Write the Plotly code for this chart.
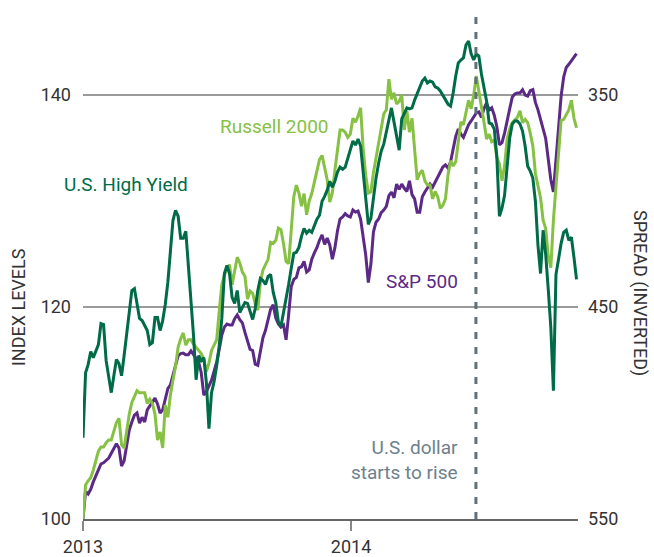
import pandas as pd
import plotly.graph_objects as go

# ---- data (readings every half week) ----
dates = pd.date_range("2013-01-01", periods=193, freq="84h")

hy_spread = [
    511.7, 481.0, 477.2, 471.0, 473.9, 470.6, 467.7, 457.8, 458.3, 475.3,
    483.3, 490.4, 482.4, 474.8, 476.7, 482.4, 472.9, 463.5, 451.7, 442.2,
    441.3, 448.8, 455.4, 456.4, 458.7, 461.1, 467.7, 466.8, 455.0, 455.0,
    461.1, 456.4, 448.8, 438.4, 423.8, 409.1, 404.4, 407.2, 417.6, 417.6,
    414.3, 430.8, 443.6, 463.5, 484.3, 472.9, 475.3, 473.9, 485.7, 507.4,
    490.4, 485.2, 477.7, 468.2, 455.4, 434.2, 430.4, 434.2, 445.5, 448.3,
    442.2, 452.6, 450.2, 447.9, 448.3, 451.7, 455.9, 450.7, 442.2, 436.5,
    437.5, 439.4, 435.6, 434.6, 443.1, 447.9, 456.9, 459.2, 453.1, 446.5,
    439.4, 431.8, 424.7, 424.2, 421.9, 416.7, 412.9, 415.2, 413.8, 414.8,
    411.9, 408.6, 406.7, 400.1, 397.8, 394.9, 390.7, 393.5, 390.7, 386.4,
    384.0, 385.0, 384.0, 379.8, 375.5, 371.7, 373.6, 370.8, 374.1, 387.4,
    401.1, 411.0, 408.2, 397.8, 389.2, 382.2, 376.5, 373.2, 367.5, 361.3,
    356.1, 362.8, 368.9, 376.0, 361.3, 358.5, 356.1, 356.6, 356.1, 352.4,
    349.5, 346.2, 343.4, 342.0, 344.3, 343.4, 343.9, 346.2, 346.7, 348.1,
    350.0, 351.9, 354.3, 355.2, 349.1, 341.0, 334.9, 333.5, 332.5, 326.4,
    324.5, 330.6, 333.5, 330.6, 331.6, 340.1, 346.7, 352.8, 363.2, 363.7,
    366.1, 379.3, 407.2, 403.4, 397.3, 381.7, 370.3, 363.7, 362.3, 362.3,
    363.7, 367.0, 374.1, 383.6, 385.9, 389.2, 400.1, 420.9, 434.2, 413.8,
    425.2, 441.7, 459.7, 489.5, 434.6, 427.5, 420.0, 414.8, 413.8, 418.6,
    417.1, 426.6, 437.0]

russell = [
    100.0, 103.2, 103.6, 103.9, 104.6, 105.6, 106.4, 106.8, 106.8, 107.2,
    107.45, 107.45, 108.2, 109.1, 109.5, 107.0, 106.7, 108.4, 109.9, 111.0,
    111.5, 112.1, 111.9, 111.9, 111.9, 110.9, 111.3, 110.9, 109.9, 107.45,
    108.2, 106.7, 110.75, 109.6, 111.7, 113.1, 114.4, 116.2, 117.0, 117.55,
    116.4, 116.9, 116.9, 116.5, 116.2, 116.0, 115.6, 115.1, 113.9, 114.7,
    115.9, 116.4, 116.9, 119.6, 122.1, 123.0, 123.6, 124.0, 122.1, 123.4,
    124.7, 124.15, 123.3, 122.9, 120.75, 121.5, 121.3, 120.3, 119.7, 122.3,
    123.5, 124.0, 124.5, 126.1, 126.0, 126.3, 127.45, 127.3, 126.0, 124.3,
    124.1, 127.2, 130.4, 131.5, 130.75, 129.5, 130.7, 128.7, 130.0, 130.7,
    131.7, 132.9, 133.9, 134.3, 133.0, 132.0, 129.9, 130.75, 132.9, 135.0,
    136.7, 136.7, 136.5, 136.0, 136.3, 137.8, 137.45, 138.0, 138.8, 134.9,
    132.4, 130.75, 130.85, 132.7, 134.1, 135.4, 137.1, 138.2, 138.6, 141.5,
    139.6, 140.2, 139.15, 139.4, 140.0, 136.7, 138.5, 136.5, 137.8, 134.5,
    132.0, 132.6, 132.9, 131.9, 131.5, 131.5, 130.2, 130.9, 130.4, 129.3,
    129.6, 130.2, 132.45, 133.8, 133.3, 133.7, 135.5, 137.45, 137.2, 138.4,
    139.5, 138.7, 140.0, 141.8, 140.4, 139.25, 137.45, 135.85, 136.3, 135.6,
    135.75, 134.1, 133.5, 131.9, 133.3, 135.85, 136.8, 137.4, 137.7, 137.9,
    138.5, 137.4, 137.7, 137.4, 136.4, 135.2, 132.6, 131.4, 130.3, 128.2,
    127.4, 124.8, 123.7, 128.2, 131.4, 134.6, 137.6, 137.7, 138.1, 138.6,
    139.5, 137.8, 136.9]

sp500 = [
    100.0, 102.6, 102.35, 102.8, 103.5, 104.05, 104.6, 105.2, 105.3, 105.5,
    105.75, 106.2, 106.7, 107.1, 106.7, 105.0, 105.5, 107.0, 108.4, 109.15,
    109.8, 110.0, 109.05, 109.6, 109.15, 110.3, 110.65, 111.1, 111.4, 110.85,
    110.0, 110.3, 111.3, 112.3, 112.65, 113.6, 114.7, 115.4, 115.6, 115.65,
    115.5, 115.5, 115.85, 115.5, 115.1, 114.8, 113.8, 111.7, 112.0, 112.55,
    113.1, 113.95, 114.8, 116.0, 117.35, 118.1, 118.4, 118.3, 118.3, 118.9,
    119.25, 118.8, 118.5, 117.6, 116.7, 116.0, 115.9, 114.6, 114.5, 115.65,
    117.1, 117.8, 118.7, 119.8, 120.2, 118.95, 118.4, 118.1, 118.3, 116.9,
    119.25, 121.9, 122.6, 122.8, 123.7, 123.8, 124.3, 123.3, 123.5, 124.5,
    125.1, 125.6, 126.3, 126.8, 125.9, 126.5, 125.85, 124.5, 125.6, 127.2,
    128.3, 128.5, 128.8, 128.6, 128.5, 129.15, 128.95, 129.05, 128.3, 126.5,
    124.9, 122.3, 124.05, 127.1, 128.0, 128.3, 128.9, 129.15, 129.5, 130.5,
    130.85, 130.3, 131.6, 131.1, 131.6, 131.2, 130.9, 131.9, 130.6, 130.2,
    128.95, 128.95, 130.4, 130.85, 131.2, 131.6, 131.3, 131.8, 132.3, 132.8,
    133.2, 133.4, 133.1, 133.7, 135.1, 136.1, 136.8, 136.3, 136.0, 136.6,
    137.2, 137.55, 137.9, 138.3, 138.4, 137.9, 138.7, 139.25, 138.6, 138.8,
    138.1, 137.0, 135.3, 135.5, 136.4, 137.4, 138.7, 139.8, 140.1, 140.2,
    140.2, 140.5, 140.0, 139.9, 140.4, 140.5, 139.3, 138.6, 137.8, 136.8,
    135.9, 133.7, 132.0, 130.85, 134.1, 137.6, 139.9, 141.7, 142.6, 142.9,
    143.2, 143.5, 143.9]

left_ticks = [100, 120, 140]
right_ticks = [350, 450, 550]
x_ticks = ["2013-01-01", "2014-01-01"]
x_tick_labels = ["2013", "2014"]
dollar_date = "2014-06-20"

# ---- style ----
FONT = "Roboto"
C_HY = "#006B47"
C_RU = "#86C143"
C_SP = "#5C2A86"
C_NOTE = "#6E808C"
C_DASH = "#5F707B"
C_TXT = "#333333"

fig = go.Figure()
fig.add_trace(go.Scatter(x=dates, y=sp500, mode="lines", name="S&P 500",
                         line=dict(color=C_SP, width=3), yaxis="y"))
fig.add_trace(go.Scatter(x=dates, y=russell, mode="lines", name="Russell 2000",
                         line=dict(color=C_RU, width=3), yaxis="y"))
fig.add_trace(go.Scatter(x=dates, y=hy_spread, mode="lines", name="U.S. High Yield",
                         line=dict(color=C_HY, width=3), yaxis="y2"))

fig.add_shape(type="line", xref="x", yref="paper", x0=dollar_date, x1=dollar_date,
              y0=0, y1=1, line=dict(color=C_DASH, width=3, dash="7px,8px"), layer="above")

ann = [
    dict(text="Russell 2000", x=0.2727, y=0.7751, xanchor="left", color=C_RU),
    dict(text="U.S. High Yield", x=-0.0424, y=0.6607, xanchor="left", color=C_HY),
    dict(text="S&P 500", x=0.6081, y=0.4675, xanchor="left", color=C_SP),
    dict(text="U.S. dollar<br>starts to rise", x=0.7616, y=0.1164, xanchor="right",
         color=C_NOTE, align="right"),
]
for a in ann:
    fig.add_annotation(text=a["text"], x=a["x"], y=a["y"], xref="paper", yref="paper",
                       xanchor=a["xanchor"], yanchor="middle", showarrow=False,
                       align=a.get("align", "left"),
                       font=dict(family=FONT, size=19, color=a["color"]))

fig.add_annotation(text="INDEX LEVELS", x=-0.1313, y=0.418, xref="paper", yref="paper",
                   textangle=-90, showarrow=False, xanchor="center", yanchor="middle",
                   font=dict(family=FONT, size=18, color=C_TXT))
fig.add_annotation(text="SPREAD (INVERTED)", x=1.1253, y=0.4458, xref="paper", yref="paper",
                   textangle=90, showarrow=False, xanchor="center", yanchor="middle",
                   font=dict(family=FONT, size=18, color=C_TXT))

fig.update_layout(
    width=654, height=557,
    margin=dict(l=83, r=76, t=12, b=38, autoexpand=False),
    paper_bgcolor="white", plot_bgcolor="white",
    showlegend=False,
    font=dict(family=FONT, size=18, color=C_TXT),
    xaxis=dict(type="date", range=["2013-01-01", "2014-11-06"], automargin=False,
               tickvals=x_ticks, ticktext=x_tick_labels,
               ticks="outside", ticklen=10, tickwidth=1.5, tickcolor="#888888",
               showline=True, linecolor="#666666", linewidth=2,
               showgrid=False, zeroline=False, ticklabelstandoff=0,
               tickfont=dict(family=FONT, size=18, color=C_TXT)),
    yaxis=dict(range=[100, 147.83], tickvals=left_ticks, showgrid=True, automargin=False,
               gridcolor="#9a9a9a", gridwidth=1.5, zeroline=False,
               showline=False, ticks="", ticklabelstandoff=11,
               tickfont=dict(family=FONT, size=18, color=C_TXT)),
    yaxis2=dict(range=[550, 310.85], tickvals=right_ticks, overlaying="y", side="right",
                automargin=False, showgrid=False, zeroline=False, showline=False,
                ticks="", ticklabelstandoff=9,
                tickfont=dict(family=FONT, size=18, color=C_TXT)),
)

fig.write_html("out.html", config={"displayModeBar": False},
               post_script="document.body.style.margin='0';document.body.style.padding='0';")
